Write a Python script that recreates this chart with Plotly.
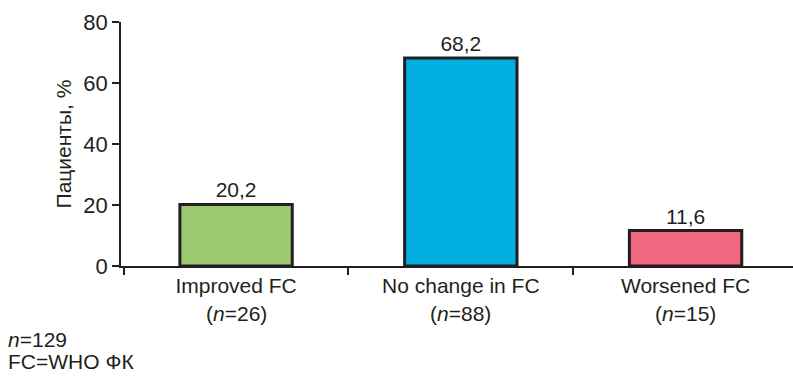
import plotly.graph_objects as go

# Change in WHO functional class
categories = ["Improved FC", "No change in FC", "Worsened FC"]
group_sizes = ["(<i>n</i>=26)", "(<i>n</i>=88)", "(<i>n</i>=15)"]
values = [20.2, 68.2, 11.6]
value_labels = ["20,2", "68,2", "11,6"]
bar_colors = ["#9DC872", "#00AEDF", "#F06880"]
y_ticks = [0, 20, 40, 60, 80]

FONT = "Liberation Sans, Arial, sans-serif"
INK = "#231F20"
SIZE = 21

# plot area in pixels: x 121..793, y 22..266
L, R, T, B = 121, 0, 22, 113
W, H = 793, 379
PW, PH = W - L - R, H - T - B


def px_x(x):
    return (x - L) / PW


def px_y(y):
    return (H - B - y) / PH


fig = go.Figure(
    go.Bar(
        x=categories,
        y=values,
        text=value_labels,
        textposition="outside",
        textfont=dict(family=FONT, size=SIZE, color=INK),
        marker=dict(color=bar_colors, line=dict(color=INK, width=3)),
        cliponaxis=False,
        width=0.5,
    )
)

annotations = []
# second line of each category label: group size
for cat, n_txt in zip(categories, group_sizes):
    annotations.append(
        dict(
            text=n_txt, x=cat, xref="x", y=px_y(313), yref="paper",
            xanchor="center", yanchor="middle", showarrow=False,
            font=dict(family=FONT, size=SIZE, color=INK),
        )
    )
# footnotes
for txt, yc in [("<i>n</i>=129", 339), ("FC=WHO ФК", 361)]:
    annotations.append(
        dict(
            text=txt, x=px_x(7), xref="paper", y=px_y(yc), yref="paper",
            xanchor="left", yanchor="middle", showarrow=False, align="left",
            borderpad=0,
            font=dict(family=FONT, size=SIZE, color=INK),
        )
    )

fig.update_layout(
    width=W,
    height=H,
    margin=dict(l=L, r=R, t=T, b=B),
    paper_bgcolor="white",
    plot_bgcolor="white",
    showlegend=False,
    font=dict(family=FONT, color=INK),
    annotations=annotations,
)

fig.update_xaxes(
    type="category",
    range=[-0.512, 2.478],
    showline=True, linecolor=INK, linewidth=1.5,
    ticks="outside", tickson="boundaries", ticklen=7, tickwidth=1.5, tickcolor=INK,
    tickfont=dict(family=FONT, size=SIZE, color=INK),
    showgrid=False, zeroline=False,
)

fig.update_yaxes(
    range=[0, 80],
    tickvals=y_ticks,
    showline=True, linecolor=INK, linewidth=1.5,
    ticks="outside", ticklen=7, tickwidth=1.5, tickcolor=INK,
    tickfont=dict(family=FONT, size=22, color=INK),
    title=dict(text="Пациенты, %", font=dict(family=FONT, size=SIZE, color=INK), standoff=6),
    showgrid=False, zeroline=False,
)

fig.write_html("out.html")
